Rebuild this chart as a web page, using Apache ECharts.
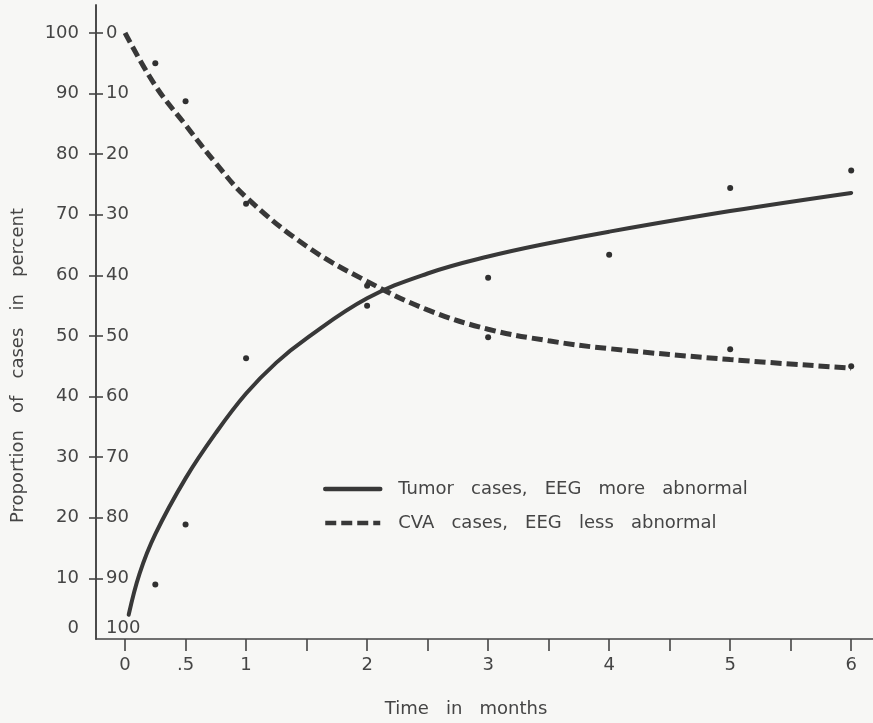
<!DOCTYPE html>
<html>
<head>
<meta charset="utf-8">
<script src="https://cdn.jsdelivr.net/npm/echarts@6/dist/echarts.min.js"></script>
<style>
html,body{margin:0;padding:0;background:#f7f7f5;}
#chart{width:873px;height:723px;}
</style>
</head>
<body>
<div id="chart"></div>
<script>
// ---- data ----
const tumorName = 'Tumor cases, EEG more abnormal';
const cvaName = 'CVA cases, EEG less abnormal';

// fitted curves (smooth lines)
const tumorCurveX = [0.03, 0.12, 0.25, 0.5, 0.75, 1.0, 1.25, 1.5, 2.0, 2.5, 3.0, 3.5, 4.0, 5.0, 6.0];
const tumorCurveY = [4, 10.8, 17.3, 26.5, 34, 40.5, 45.6, 49.6, 56.2, 60.3, 63.1, 65.3, 67.2, 70.6, 73.6];
const cvaCurveX = [0, 0.25, 0.5, 0.75, 1.0, 1.5, 2.0, 2.5, 3.0, 3.5, 4.0, 5.0, 6.0];
const cvaCurveY = [100, 91.3, 84.8, 78.5, 72.9, 64.8, 59.0, 54.3, 51.1, 49.2, 47.9, 46.1, 44.7];

// observed points (dots)
const tumorDotX = [0.25, 0.5, 1.0, 2.0, 3.0, 4.0, 5.0, 6.0];
const tumorDotY = [9.0, 18.9, 46.3, 55.0, 59.6, 63.4, 74.4, 77.3];
const cvaDotX = [0.25, 0.5, 1.0, 2.0, 3.0, 5.0, 6.0];
const cvaDotY = [95.0, 88.7, 71.8, 58.3, 49.8, 47.8, 45.0];

// axes
const xTickValues = [0, 0.5, 1, 1.5, 2, 2.5, 3, 3.5, 4, 4.5, 5, 5.5, 6];
const xLabelValues = [0, 0.5, 1, 2, 3, 4, 5, 6];
const yTickValues = [10, 20, 30, 40, 50, 60, 70, 80, 90, 100];
const yLabelValues = [0, 10, 20, 30, 40, 50, 60, 70, 80, 90, 100];
const yInnerTickValues = [0, 10, 20, 30, 40, 50, 60, 70, 80, 90];
const yInnerLabelValues = [0, 10, 20, 30, 40, 50, 60, 70, 80, 90, 100];

const xTitle = 'Time in months';
const yTitle = 'Proportion of cases in percent';

// ---- build ----
const pairs = (xs, ys) => xs.map((x, i) => [x, ys[i]]);
const spaced = s => s.replace(/ /g, '   ');

const FONT = 'DejaVu Sans';
const INK = '#383838';
const TXT = '#454545';
const AX = '#444';
const lowRich = {lo: {fontFamily: FONT, fontSize: 18, color: TXT, padding: [0, 0, 22, 0]}};

const chart = echarts.init(document.getElementById('chart'), null, {renderer: 'canvas'});
chart.setOption({
  backgroundColor: '#f7f7f5',
  animation: false,
  textStyle: {fontFamily: FONT},
  grid: {left: 96, right: 0, top: 5, bottom: 81, containLabel: false},
  legend: {
    data: [tumorName, cvaName],
    orient: 'vertical',
    left: 323,
    top: 480,
    padding: 0,
    itemWidth: 55,
    itemHeight: 14,
    itemGap: 16,
    formatter: name => spaced(name),
    itemStyle: {color: 'rgba(0,0,0,0)', borderWidth: 0, opacity: 0},
    lineStyle: {width: 4.5},
    textStyle: {fontFamily: FONT, fontSize: 18, color: TXT, lineHeight: 18, padding: [0, 0, 0, 13]}
  },
  xAxis: {
    type: 'value',
    min: -0.24,
    max: 6.18,
    name: spaced(xTitle),
    nameLocation: 'middle',
    nameGap: 61,
    nameTextStyle: {fontFamily: FONT, fontSize: 18, color: TXT, padding: [0, 37, 0, 0]},
    splitLine: {show: false},
    axisLine: {show: true, onZero: false, lineStyle: {color: AX, width: 1.6}},
    axisTick: {show: true, length: 12, lineStyle: {color: AX, width: 1.6}, customValues: xTickValues},
    axisLabel: {
      fontFamily: FONT, fontSize: 18, color: TXT, margin: 17,
      customValues: xLabelValues,
      formatter: v => (v === 0.5 ? '.5' : String(v))
    }
  },
  yAxis: [
    {
      // outer scale: proportion of tumor cases (0 at bottom)
      type: 'value',
      min: 0,
      max: 104.6,
      position: 'left',
      name: spaced(yTitle),
      nameLocation: 'middle',
      nameGap: 69,
      nameTextStyle: {fontFamily: FONT, fontSize: 18, color: TXT, padding: [0, 87, 0, 0]},
      splitLine: {show: false},
      axisLine: {show: true, onZero: false, lineStyle: {color: AX, width: 1.6}},
      axisTick: {show: true, length: 7, lineStyle: {color: AX, width: 1.6}, customValues: yTickValues},
      axisLabel: {
        fontFamily: FONT, fontSize: 18, color: TXT, margin: 17,
        customValues: yLabelValues,
        formatter: v => (v === 0 ? '{lo|0}' : String(v)),
        rich: lowRich
      }
    },
    {
      // inner scale: proportion of CVA cases (0 at top), drawn on the same vertical line
      type: 'value',
      inverse: true,
      min: -4.6,
      max: 100,
      position: 'right',
      offset: -777,
      splitLine: {show: false},
      axisLine: {show: true, onZero: false, lineStyle: {color: AX, width: 1.6}},
      axisTick: {show: true, length: 7, lineStyle: {color: AX, width: 1.6}, customValues: yInnerTickValues},
      axisLabel: {
        fontFamily: FONT, fontSize: 18, color: TXT, margin: 10,
        customValues: yInnerLabelValues,
        formatter: v => (v === 100 ? '{lo|100}' : String(v)),
        rich: lowRich
      }
    }
  ],
  series: [
    {
      name: tumorName,
      type: 'line',
      data: pairs(tumorCurveX, tumorCurveY),
      smooth: 0.4,
      symbol: 'none',
      lineStyle: {color: INK, width: 4, cap: 'round'},
      itemStyle: {color: INK},
      z: 3
    },
    {
      name: cvaName,
      type: 'line',
      data: pairs(cvaCurveX, cvaCurveY),
      smooth: 0.4,
      symbol: 'none',
      lineStyle: {color: INK, width: 5, type: [11, 5], cap: 'butt'},
      itemStyle: {color: INK},
      z: 3
    },
    {
      name: 'Tumor observed',
      type: 'scatter',
      data: pairs(tumorDotX, tumorDotY),
      symbol: 'circle',
      symbolSize: 6,
      itemStyle: {color: '#303030', opacity: 1},
      z: 4
    },
    {
      name: 'CVA observed',
      type: 'scatter',
      data: pairs(cvaDotX, cvaDotY),
      symbol: 'circle',
      symbolSize: 6,
      itemStyle: {color: '#303030', opacity: 1},
      z: 4
    }
  ]
});
</script>
</body>
</html>
